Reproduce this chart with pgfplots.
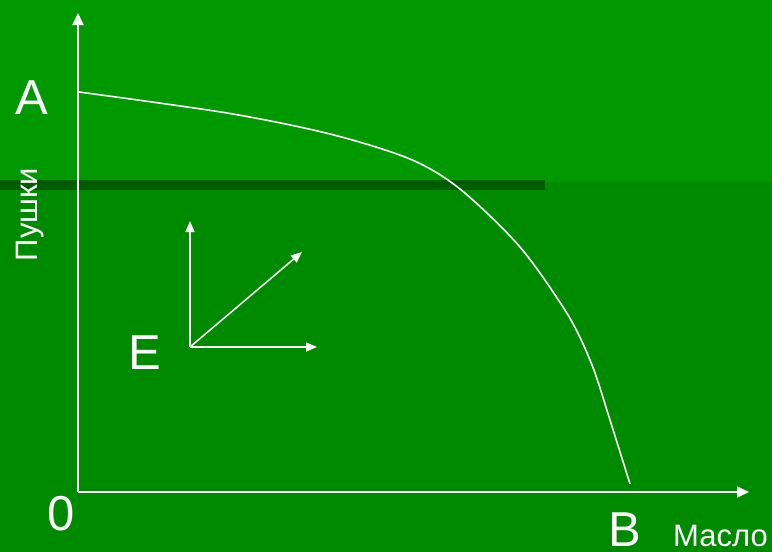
\documentclass[border=0pt]{standalone}
\usepackage{fontspec}
\setmainfont{Liberation Sans}
\usepackage{pgfplots}
\pgfplotsset{compat=1.18}
\usetikzlibrary{arrows.meta}

\definecolor{bgtop}{RGB}{0,153,0}
\definecolor{bgbot}{RGB}{0,138,0}
\definecolor{band}{RGB}{0,92,0}

\begin{document}
\begin{tikzpicture}
\begin{axis}[
    scale only axis,
    width=772pt, height=552pt,
    xmin=0, xmax=772, ymin=0, ymax=552,
    y dir=reverse,
    hide axis,
    clip=false,
  ]
% background
\addplot[draw=none, fill=bgtop] coordinates {(0,0) (772,0) (772,182) (0,182)} -- cycle;
\addplot[draw=none, fill=bgbot] coordinates {(0,182) (772,182) (772,552) (0,552)} -- cycle;
\addplot[draw=none, fill=band] coordinates {(0,180) (545,180) (545,189.5) (0,189.5)} -- cycle;

% axes
\addplot[white, line width=1.8pt, -{Triangle[width=11pt,length=12pt]}] coordinates {(78,492) (78,13)};
\addplot[white, line width=1.8pt, -{Triangle[width=11pt,length=12pt]}] coordinates {(78,492) (749,492)};

% production possibility curve
\addplot[white, line width=1.6pt, smooth] coordinates {
  (79,92) (227,113) (330,134) (410,159) (460,189)
  (520,247) (568,315) (592,365) (610,420) (630,484)
};

% vectors at E
\addplot[white, line width=1.5pt, -{Triangle[width=9pt,length=11pt]}] coordinates {(190,347) (190,221)};
\addplot[white, line width=1.5pt, -{Triangle[width=9pt,length=11pt]}] coordinates {(190,347) (302,252)};
\addplot[white, line width=1.5pt, -{Triangle[width=9pt,length=11pt]}] coordinates {(190,347) (317,347)};

% labels
\node[text=white, inner sep=0pt, anchor=base, font=\fontsize{49}{49}\selectfont] at (axis cs:32,114) {A};
\node[text=white, inner sep=0pt, anchor=base, font=\fontsize{49}{49}\selectfont] at (axis cs:61.5,530) {0};
\node[text=white, inner sep=0pt, anchor=base, font=\fontsize{49}{49}\selectfont] at (axis cs:624.5,546) {B};
\node[text=white, inner sep=0pt, anchor=base, font=\fontsize{49}{49}\selectfont] at (axis cs:144.5,369) {E};
\node[text=white, inner sep=0pt, anchor=base west, font=\fontsize{31}{31}\selectfont] at (axis cs:673,546) {Масло};
\node[text=white, inner sep=0pt, anchor=base, rotate=90, font=\fontsize{31}{31}\selectfont] at (axis cs:37,214.5) {Пушки};
\end{axis}
\end{tikzpicture}
\end{document}
